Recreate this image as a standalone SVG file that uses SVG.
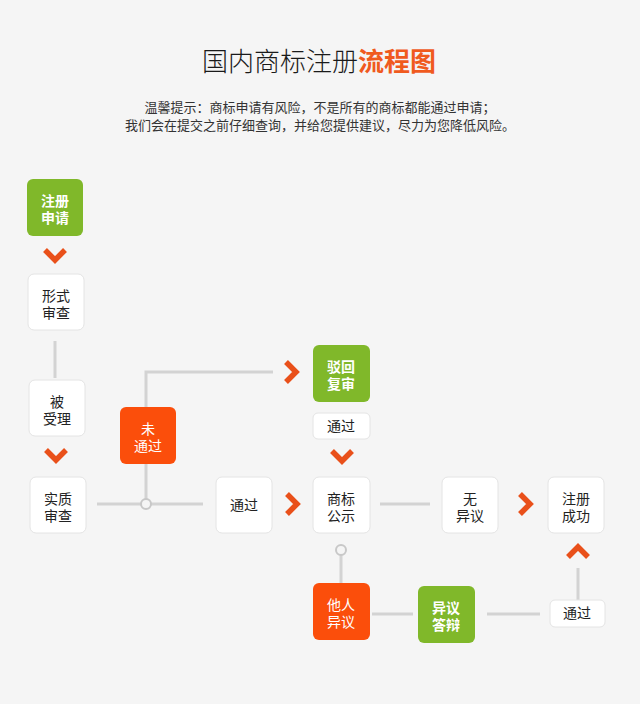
<svg xmlns="http://www.w3.org/2000/svg" width="640" height="704" viewBox="0 0 640 704">
<style>
text{font-family:"Liberation Sans","Noto Sans CJK SC",sans-serif;}
.t{font-size:14px;text-anchor:middle;fill:#222;}
.tw{font-size:14px;text-anchor:middle;fill:#fff;}
.tb{font-weight:bold;}
.w{fill:#fff;stroke:#e4e4e4;stroke-width:1;}
.g{fill:#80b82a;}
.o{fill:#fb4e0b;}
.ln{stroke:#d3d3d3;stroke-width:3;fill:none;}
.dot{fill:#f5f5f5;stroke:#c8c8c8;stroke-width:2;}
.ch{fill:none;stroke:#e9501a;stroke-width:5.5;stroke-linejoin:miter;}
</style>
<defs>
<path id="cd" class="ch" d="M-10,-5 L0,5 L10,-5"/>
<path id="cr" class="ch" d="M-5,-10 L5,0 L-5,10"/>
<path id="cu" class="ch" d="M-10,5 L0,-5 L10,5"/>
</defs>
<rect x="0" y="0" width="640" height="704" fill="#f5f5f5"/>
<g id="title">
<text x="319" y="71" font-size="26" font-weight="300" text-anchor="middle" fill="#1a1a1a">国内商标注册<tspan fill="#f05a1e" font-weight="bold">流程图</tspan></text>
<text x="320" y="112" font-size="13" text-anchor="middle" fill="#333">温馨提示：商标申请有风险，不是所有的商标都能通过申请；</text>
<text x="320" y="130" font-size="13" text-anchor="middle" fill="#333">我们会在提交之前仔细查询，并给您提供建议，尽力为您降低风险。</text>
</g>
<g id="connectors">
<line class="ln" x1="55" y1="341" x2="55" y2="378"/>
<line class="ln" x1="97" y1="504" x2="203" y2="504"/>
<polyline class="ln" points="146,499 146,372 273,372"/>
<circle class="dot" cx="146" cy="504" r="5"/>
<line class="ln" x1="380" y1="504" x2="430" y2="504"/>
<line class="ln" x1="341" y1="555" x2="341" y2="583"/>
<circle class="dot" cx="341" cy="550" r="5"/>
<line class="ln" x1="372" y1="614" x2="413" y2="614"/>
<line class="ln" x1="487" y1="614" x2="540" y2="614"/>
<line class="ln" x1="578" y1="568" x2="578" y2="600"/>
<use href="#cd" x="55" y="255"/>
<use href="#cd" x="56" y="455"/>
<use href="#cd" x="342" y="456"/>
<use href="#cr" x="291" y="372"/>
<use href="#cr" x="292" y="504"/>
<use href="#cr" x="525" y="504"/>
<use href="#cu" x="578" y="552"/>
</g>
<g id="n1"><rect class="g" x="27" y="179" width="56" height="57" rx="6"/><text class="tw tb" x="55" y="206">注册<tspan x="55" dy="17">申请</tspan></text></g>
<g id="n2"><rect class="w" x="28" y="274" width="56" height="56" rx="6"/><text class="t" x="56" y="301">形式<tspan x="56" dy="17">审查</tspan></text></g>
<g id="n3"><rect class="w" x="29" y="380" width="56" height="56" rx="6"/><text class="t" x="57" y="407">被<tspan x="57" dy="17">受理</tspan></text></g>
<g id="n4"><rect class="w" x="30" y="477" width="56" height="56" rx="6"/><text class="t" x="58" y="504">实质<tspan x="58" dy="17">审查</tspan></text></g>
<g id="n5"><rect class="o" x="120" y="407" width="56" height="57" rx="6"/><text class="tw" x="148" y="434">未<tspan x="148" dy="17">通过</tspan></text></g>
<g id="n6"><rect class="g" x="313" y="345" width="57" height="57" rx="6"/><text class="tw tb" x="341" y="372">驳回<tspan x="341" dy="17">复审</tspan></text></g>
<g id="n7"><rect class="w" x="313" y="413" width="57" height="26" rx="5"/><text class="t" x="341" y="431">通过</text></g>
<g id="n8"><rect class="w" x="216" y="477" width="56" height="56" rx="6"/><text class="t" x="244" y="510">通过</text></g>
<g id="n9"><rect class="w" x="313" y="477" width="57" height="56" rx="6"/><text class="t" x="341" y="504">商标<tspan x="341" dy="17">公示</tspan></text></g>
<g id="n10"><rect class="w" x="442" y="477" width="56" height="56" rx="6"/><text class="t" x="470" y="504">无<tspan x="470" dy="17">异议</tspan></text></g>
<g id="n11"><rect class="w" x="548" y="477" width="56" height="56" rx="6"/><text class="t" x="576" y="504">注册<tspan x="576" dy="17">成功</tspan></text></g>
<g id="n12"><rect class="o" x="313" y="583" width="57" height="57" rx="6"/><text class="tw" x="341" y="610">他人<tspan x="341" dy="17">异议</tspan></text></g>
<g id="n13"><rect class="g" x="418" y="586" width="57" height="57" rx="6"/><text class="tw tb" x="446" y="613">异议<tspan x="446" dy="17">答辩</tspan></text></g>
<g id="n14"><rect class="w" x="550" y="600" width="55" height="27" rx="5"/><text class="t" x="577" y="618">通过</text></g>
</svg>
